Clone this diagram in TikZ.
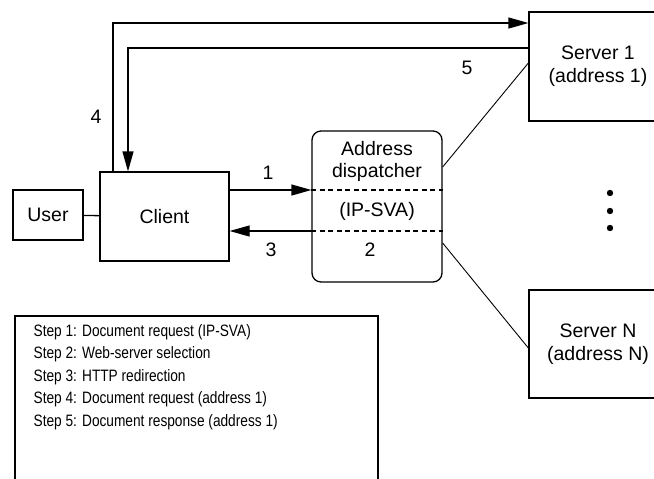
\documentclass[tikz,border=0pt]{standalone}
\usepackage{fontspec}
\setmainfont{Liberation Sans}
\newfontfamily\legendfont[FakeStretch=0.83]{Liberation Sans}
\usetikzlibrary{arrows.meta}
\begin{document}
\begin{tikzpicture}[x=1pt,y=-1pt,
  line width=1.3pt,
  box/.style={draw,rectangle,inner sep=0pt,font=\fontsize{19.5}{23}\selectfont,align=center},
  txt/.style={inner sep=0pt,font=\fontsize{19.5}{22}\selectfont},
  steptxt/.style={inner sep=0pt,anchor=west,font=\legendfont\fontsize{16.5}{18}\selectfont},
  arr/.style={-{Triangle[length=20pt,width=11pt]}},
  thin line/.style={line width=0.9pt},
  sep/.style={dashed,dash pattern=on 5pt off 3.5pt,line width=1.1pt}]
\clip (0,0) rectangle (654,479);

% boxes
\node[box,minimum width=70pt,minimum height=50pt] (user) at (48,215) {User};
\node[box,minimum width=129pt,minimum height=89pt] (client) at (164.5,216.5) {Client};
\node[box,rounded corners=9pt,minimum width=130pt,minimum height=151pt] (disp) at (377,206.5) {};
\node[box,minimum width=138pt,minimum height=109pt] (srv1) at (598,66.5) {Server 1\\(address 1)};
\node[box,minimum width=138pt,minimum height=108pt] (srvN) at (598,344) {Server N\\(address N)};

% dispatcher contents
\node[txt,align=center] (disptitle) at (377,161.5) {Address\\dispatcher};
\node[txt] (dispname) at (377,211) {(IP-SVA)};
\draw[sep] ([yshift=16.5pt]disp.west) -- ([yshift=16.5pt]disp.east);
\draw[sep] ([yshift=-24.5pt]disp.west) -- ([yshift=-24.5pt]disp.east);

% connectors
\draw (user) -- (client);
\draw[arr] ([yshift=26.5pt]client.east) -- ([yshift=16.5pt]disp.west);
\draw[arr] ([yshift=-24.5pt]disp.west) -- ([yshift=-14.5pt]client.east);
\draw[arr] ([xshift=-51.5pt]client.north) |- ([yshift=43.5pt]srv1.west);
\draw[arr] ([yshift=18.5pt]srv1.west) -| ([xshift=-36.5pt]client.north);
\draw[thin line] ([yshift=39.5pt]disp.east) -- ([yshift=3.5pt]srv1.west);
\draw[thin line] ([yshift=-36.5pt]disp.east) -- ([yshift=-4pt]srvN.west);

% step numbers
\node[txt] (n1) at (268,173) {1};
\node[txt] (n2) at (370,250) {2};
\node[txt] (n3) at (271,250) {3};
\node[txt] (n4) at (96,117) {4};
\node[txt] (n5) at (467,68) {5};

% more servers
\foreach \y/\n in {193/a,211/b,228/c}
  \fill (610,\y) circle (3.2pt) coordinate (dot\n);

% legend
\draw (15,520) -- (15,316) -- (378,316) -- (378,520);
\node[steptxt] (s1) at (33,332) {Step 1: Document request (IP-SVA)};
\node[steptxt] (s2) at (33,354.5) {Step 2: Web-server selection};
\node[steptxt] (s3) at (33,377) {Step 3: HTTP redirection};
\node[steptxt] (s4) at (33,399.5) {Step 4: Document request (address 1)};
\node[steptxt] (s5) at (33,422) {Step 5: Document response (address 1)};
\end{tikzpicture}
\end{document}
